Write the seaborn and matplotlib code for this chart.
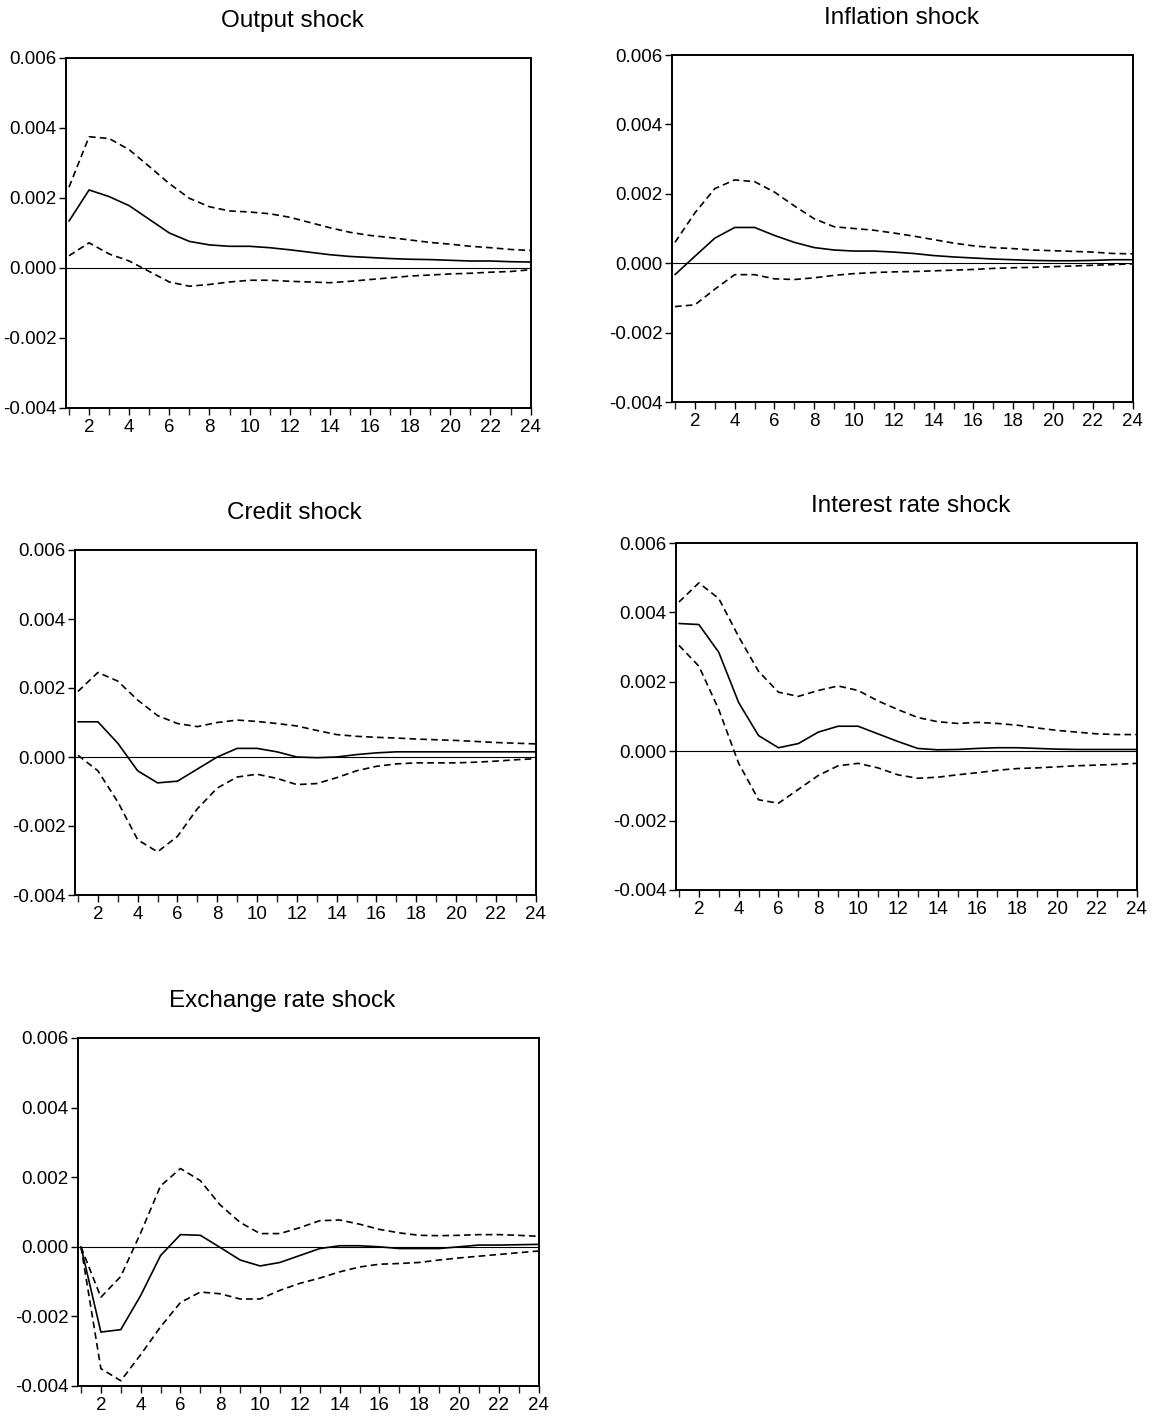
import numpy as np
import pandas as pd
import matplotlib
matplotlib.use("Agg")
import matplotlib.pyplot as plt
import seaborn as sns
from matplotlib.ticker import FixedLocator

sns.set_style("ticks")
plt.rcParams['font.family'] = ['Liberation Sans', 'DejaVu Sans']

periods = list(range(1, 25))

titles = ["Output shock", "Inflation shock", "Credit shock",
          "Interest rate shock", "Exchange rate shock"]

# values in units of 0.001
output_mid = [1.34, 2.23, 2.04, 1.78, 1.39, 1.0, 0.76, 0.66, 0.62, 0.62, 0.58, 0.52,
              0.45, 0.38, 0.33, 0.30, 0.27, 0.25, 0.24, 0.22, 0.20, 0.20, 0.18, 0.17]
output_up = [2.31, 3.75, 3.70, 3.38, 2.90, 2.41, 1.99, 1.75, 1.63, 1.60, 1.55, 1.45,
             1.30, 1.15, 1.02, 0.93, 0.87, 0.80, 0.73, 0.68, 0.62, 0.58, 0.53, 0.50]
output_lo = [0.35, 0.72, 0.40, 0.20, -0.10, -0.40, -0.52, -0.47, -0.40, -0.35, -0.35, -0.38,
             -0.40, -0.42, -0.38, -0.33, -0.28, -0.23, -0.20, -0.17, -0.15, -0.12, -0.10, -0.05]

infl_mid = [-0.33, 0.20, 0.72, 1.03, 1.03, 0.80, 0.60, 0.45, 0.38, 0.35, 0.35, 0.32,
            0.28, 0.22, 0.18, 0.15, 0.12, 0.10, 0.08, 0.07, 0.07, 0.08, 0.10, 0.10]
infl_up = [0.60, 1.45, 2.15, 2.40, 2.35, 2.05, 1.65, 1.28, 1.05, 1.00, 0.95, 0.87,
           0.78, 0.68, 0.58, 0.50, 0.45, 0.42, 0.38, 0.36, 0.34, 0.32, 0.28, 0.27]
infl_lo = [-1.25, -1.20, -0.75, -0.33, -0.33, -0.45, -0.47, -0.42, -0.35, -0.30, -0.27, -0.25,
           -0.24, -0.22, -0.20, -0.18, -0.15, -0.13, -0.12, -0.10, -0.08, -0.06, -0.04, -0.02]

credit_mid = [1.02, 1.02, 0.40, -0.40, -0.75, -0.70, -0.35, 0.0, 0.25, 0.25, 0.15, 0.0,
              -0.02, 0.0, 0.07, 0.12, 0.15, 0.15, 0.15, 0.15, 0.15, 0.15, 0.15, 0.15]
credit_up = [1.90, 2.45, 2.20, 1.65, 1.20, 0.97, 0.88, 1.00, 1.07, 1.03, 0.97, 0.90,
             0.77, 0.65, 0.60, 0.57, 0.55, 0.52, 0.50, 0.48, 0.45, 0.42, 0.40, 0.38]
credit_lo = [0.05, -0.40, -1.30, -2.40, -2.75, -2.30, -1.50, -0.90, -0.58, -0.50, -0.62, -0.80,
             -0.77, -0.60, -0.40, -0.27, -0.20, -0.17, -0.17, -0.17, -0.15, -0.12, -0.08, -0.05]

rate_mid = [3.68, 3.65, 2.85, 1.40, 0.45, 0.10, 0.22, 0.55, 0.72, 0.72, 0.50, 0.28,
            0.08, 0.04, 0.05, 0.08, 0.10, 0.10, 0.08, 0.06, 0.05, 0.05, 0.05, 0.05]
rate_up = [4.30, 4.85, 4.40, 3.30, 2.30, 1.70, 1.58, 1.75, 1.88, 1.75, 1.45, 1.20,
           0.97, 0.85, 0.80, 0.83, 0.80, 0.75, 0.67, 0.60, 0.55, 0.50, 0.48, 0.48]
rate_lo = [3.05, 2.45, 1.20, -0.35, -1.40, -1.50, -1.10, -0.70, -0.42, -0.35, -0.48, -0.68,
           -0.78, -0.75, -0.68, -0.62, -0.55, -0.50, -0.48, -0.45, -0.42, -0.40, -0.38, -0.35]

fx_mid = [0.0, -2.45, -2.38, -1.40, -0.25, 0.35, 0.33, -0.02, -0.38, -0.55, -0.45, -0.25,
          -0.05, 0.03, 0.03, 0.0, -0.05, -0.05, -0.05, 0.0, 0.05, 0.05, 0.06, 0.07]
fx_up = [0.0, -1.45, -0.85, 0.40, 1.75, 2.25, 1.90, 1.20, 0.70, 0.38, 0.38, 0.55,
         0.75, 0.77, 0.65, 0.50, 0.40, 0.33, 0.32, 0.33, 0.35, 0.35, 0.33, 0.30]
fx_lo = [0.0, -3.50, -3.85, -3.10, -2.30, -1.60, -1.30, -1.35, -1.50, -1.50, -1.25, -1.05,
         -0.90, -0.72, -0.58, -0.50, -0.48, -0.45, -0.38, -0.32, -0.27, -0.22, -0.17, -0.12]

y_ticks = [-0.004, -0.002, 0.0, 0.002, 0.004, 0.006]
y_tick_labels = ["-0.004", "-0.002", "0.000", "0.002", "0.004", "0.006"]
x_ticks = list(range(2, 25, 2))

series = [(output_mid, output_up, output_lo), (infl_mid, infl_up, infl_lo),
          (credit_mid, credit_up, credit_lo), (rate_mid, rate_up, rate_lo),
          (fx_mid, fx_up, fx_lo)]

W, H = 1154, 1420
fig = plt.figure(figsize=(W / 100, H / 100), dpi=100)

# axes boxes in pixels: left, right, top, bottom
boxes = [(66, 531, 58, 408), (672, 1133, 55, 402), (75, 536, 550, 895),
         (676, 1137, 543, 890), (78, 539, 1038, 1386)]
title_x = [0.486, 0.497, 0.475, 0.508, 0.443]

for i, ((l, r, t, b), title, (mid, up, lo)) in enumerate(zip(boxes, titles, series)):
    ax = fig.add_axes([l / W, 1 - b / H, (r - l) / W, (b - t) / H])
    df = pd.DataFrame({
        "period": periods * 3,
        "value": [v * 0.001 for v in mid + up + lo],
        "band": ["mid"] * 24 + ["up"] * 24 + ["lo"] * 24,
    })
    ax.axhline(0, color="black", lw=0.8, zorder=1)
    sns.lineplot(data=df, x="period", y="value", hue="band", style="band",
                 palette={"mid": "black", "up": "black", "lo": "black"},
                 dashes={"mid": "", "up": (4, 2.5), "lo": (4, 2.5)},
                 linewidth=1.2, legend=False, ax=ax, estimator=None)
    ax.set_xlim(0.85, 24.02)
    ax.set_ylim(-0.004, 0.006)
    ax.set_yticks(y_ticks)
    ax.set_yticklabels(y_tick_labels)
    ax.set_xticks(x_ticks)
    ax.xaxis.set_minor_locator(FixedLocator(list(range(1, 25, 2))))
    ax.tick_params(axis="y", which="major", labelsize=13.5, length=5, width=1,
                   direction="out", colors="black", pad=2)
    ax.tick_params(axis="x", which="major", labelsize=13.5, length=5, width=1,
                   direction="out", colors="black", pad=3)
    ax.tick_params(axis="x", which="minor", length=5, width=1, direction="out")
    ax.set_xlabel("")
    ax.set_ylabel("")
    for s in ax.spines.values():
        s.set_visible(True)
        s.set_linewidth(1.4)
        s.set_color("black")
    ax.set_title(title, fontsize=17.5, pad=22, x=title_x[i], color="black")

fig.savefig("out.png", dpi=100)
